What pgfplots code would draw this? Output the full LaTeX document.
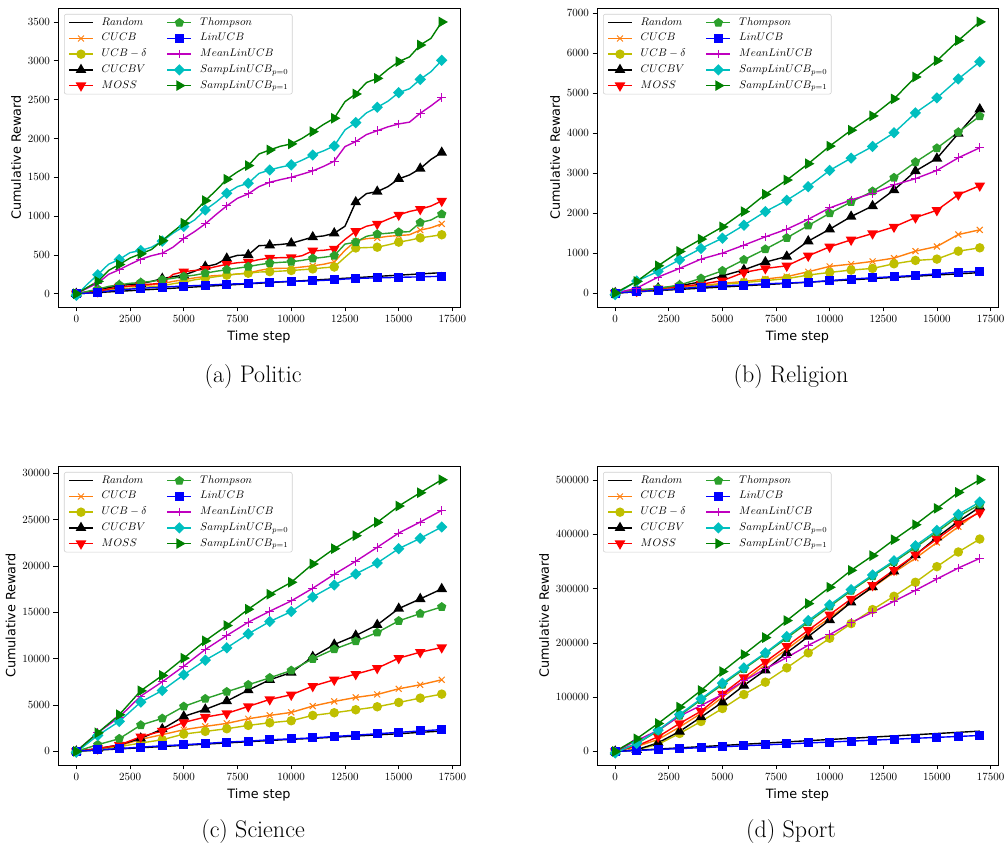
\RequirePackage{fix-cm}
\documentclass[border=0pt]{standalone}
\usepackage{fontspec}
\setsansfont{DejaVu Sans}
\usepackage{pgfplots}
\usepackage{pgfplotstable}
\pgfplotsset{compat=1.18}

\definecolor{cOrange}{HTML}{FF7F0E}
\definecolor{cOlive}{rgb}{0.75,0.75,0}
\definecolor{cGreen}{HTML}{2CA02C}
\definecolor{cMag}{rgb}{0.75,0,0.75}
\definecolor{cCyan}{rgb}{0,0.75,0.75}
\definecolor{cDGreen}{rgb}{0,0.5,0}

\pgfplotstableread{
x rnd cucb ucbd cucbv moss thom lin mean sz so
0 0 0 0 0 0 0 0 0 -20 0
500 8 20 15 25 15 30 8 70 120 80
1000 16 43 30 50 30 60 18 137 245 160
1500 24 65 45 80 60 95 35 250 380 300
2000 32 85 60 105 85 115 50 310 442 377
2500 40 95 70 120 100 135 60 380 530 460
3000 48 103 80 130 115 145 70 445 557 515
3500 56 115 90 160 125 160 78 490 600 570
4000 64 128 100 195 137 180 85 523 678 686
4500 72 160 130 220 250 200 93 600 780 800
5000 80 180 150 240 285 223 100 712 866 909
5500 88 205 180 290 300 240 105 800 950 1050
6000 96 223 200 350 317 265 110 900 1080 1200
6500 104 235 220 380 350 290 118 1020 1180 1330
7000 112 240 240 455 380 310 125 1132 1295 1475
7500 120 255 255 495 400 330 128 1230 1380 1570
8000 128 265 265 500 410 350 132 1286 1424 1651
8500 136 300 280 620 440 375 142 1380 1550 1800
9000 144 325 285 625 460 395 150 1436 1595 1852
9500 152 328 292 635 465 405 155 1470 1630 1900
10000 160 330 300 650 467 412 160 1500 1660 1930
10500 168 345 310 690 490 430 163 1540 1720 2000
11000 176 360 320 730 553 455 167 1582 1788 2088
11500 184 380 335 745 560 470 173 1640 1840 2180
12000 192 410 345 780 578 490 180 1707 1904 2260
12500 200 560 470 870 700 640 190 1895 2110 2474
13000 208 680 590 1180 805 665 197 1960 2204 2573
13500 216 710 595 1290 870 740 202 2050 2330 2720
14000 224 720 600 1316 900 768 205 2100 2401 2774
14500 232 740 630 1380 960 780 208 2150 2480 2890
15000 240 750 665 1480 1016 793 212 2187 2590 2989
15500 248 760 690 1530 1060 800 215 2210 2640 3050
16000 256 820 720 1612 1090 917 218 2324 2761 3203
16500 264 850 740 1730 1130 950 222 2420 2860 3289
17000 272 900 760 1818 1196 1025 225 2525 3006 3500
}\dataA

\pgfplotstableread{
x rnd cucb ucbd cucbv moss thom lin mean sz so
0 0 0 0 0 0 0 0 0 -40 0
1000 30 40 30 50 50 80 30 120 300 290
2000 60 90 70 120 110 116 70 400 540 682
3000 90 140 120 180 160 200 110 615 831 1039
4000 120 190 170 280 220 366 150 848 1114 1347
5000 150 240 220 430 308 557 180 998 1372 1654
6000 180 290 260 580 515 831 200 1197 1696 2037
7000 210 350 310 773 615 1097 230 1405 2037 2469
8000 240 410 360 914 680 1380 250 1596 2319 2826
9000 270 532 449 1297 930 1688 270 1845 2660 3234
10000 300 665 515 1596 1155 1995 310 2128 3067 3674
11000 330 723 574 1912 1330 2278 350 2328 3375 4073
12000 360 790 615 2178 1488 2544 380 2494 3666 4431
13000 390 873 731 2577 1654 2885 410 2702 4007 4855
14000 420 1047 815 3051 1887 3275 440 2860 4506 5404
15000 450 1164 848 3367 2070 3624 480 3067 4880 5811
16000 480 1463 1047 3990 2460 4023 520 3383 5354 6318
17000 510 1580 1130 4597 2685 4423 545 3633 5786 6783
}\dataB

\pgfplotstableread{
x rnd cucb ucbd cucbv moss thom lin mean sz so
0 0 0 0 0 0 0 0 0 -100 0
1000 130 250 200 300 300 718 170 2010 1722 2000
2000 260 600 500 700 680 1364 300 3697 3230 3948
3000 390 1300 900 1400 1580 2835 450 5958 5312 6532
4000 520 1800 1250 2404 2190 3553 600 7501 6568 8183
5000 650 2333 1866 3768 3122 4845 720 9188 8255 10049
6000 780 2692 2153 4522 3697 5670 850 10982 9834 11915
7000 910 3015 2440 5419 4091 6424 1000 12490 11162 13566
8000 1040 3517 2799 6604 4845 7178 1100 13925 12669 15325
9000 1170 3876 3086 7716 5599 7932 1250 15110 13997 16940
10000 1300 4199 3302 8506 6101 8721 1350 16222 15074 18232
11000 1400 4881 3876 10193 7034 9977 1450 17586 16653 20206
12000 1530 5383 4163 11520 7716 11018 1600 19093 17945 21857
13000 1650 5814 4486 12490 8326 11880 1750 20493 19129 23257
14000 1780 6137 4809 13638 8972 12813 1900 22000 20313 24692
15000 1900 6747 5276 15397 10049 14069 2050 23544 21857 26451
16000 2050 7178 5742 16438 10695 14858 2200 24728 22970 27887
17000 2190 7716 6173 17514 11197 15576 2350 25984 24190 29286
}\dataC

\pgfplotstableread{
x rnd cucb ucbd cucbv moss thom lin mean sz so
0 0 0 0 0 0 0 0 0 -3000 0
1000 2200 9000 3000 3000 10000 14000 1700 20000 15000 23300
2000 4400 22000 13000 16000 27000 38000 3500 39000 39300 51500
3000 6600 45000 33100 36800 51500 66000 5200 65000 68100 81600
4000 8800 70000 55200 63200 74200 95000 6900 84700 96900 112300
5000 11000 100000 79100 90800 106100 123000 8600 104900 125800 147200
6000 13200 130000 104900 121500 136200 152000 10400 130000 154000 178500
7000 15400 160000 127600 149700 165000 180000 12100 152100 181600 209800
8000 17600 188000 154000 181600 193900 209000 13800 173000 211700 241100
9000 19800 218000 181600 211700 223300 238000 15600 195700 241100 272400
10000 22000 246000 208600 242300 252100 267000 17300 215300 269900 302500
11000 24200 276000 235600 274800 281000 296000 19000 237400 298200 333700
12000 26400 302000 261400 303100 306100 323000 20700 256400 325200 360700
13000 28600 330000 285900 331900 334400 349000 22500 276700 351500 390200
14000 30800 356000 311700 362000 362600 376000 24200 296900 379100 417800
15000 33000 385000 340500 394500 391400 404000 25900 317800 407400 447900
16000 35200 414000 367500 423900 419600 433000 27600 338000 436800 477300
17000 37400 443000 391400 450300 440500 455000 29400 355800 459500 500600
}\dataD

\pgfplotsset{
  sRnd/.style={black, no marks},
  sCUCB/.style={color=cOrange, mark=x, mark size=4.2pt, mark options={solid,line width=1pt}},
  sUCBd/.style={color=cOlive, mark=*, mark size=4pt, mark options={solid}},
  sCUCBV/.style={black, mark=triangle*, mark size=4.8pt, mark options={solid}},
  sMOSS/.style={red, mark=triangle*, mark size=4.8pt, mark options={solid,rotate=180}},
  sThom/.style={color=cGreen, mark=pentagon*, mark size=4pt, mark options={solid}},
  sLin/.style={color=blue, mark=square*, mark size=3.8pt, mark options={solid}},
  sMean/.style={color=cMag, mark=+, mark size=4.3pt, mark options={solid,line width=1pt}},
  sS0/.style={color=cCyan, mark=square*, mark size=3.3pt, mark options={solid,rotate=45}},
  sS1/.style={color=cDGreen, mark=triangle*, mark size=4.8pt, mark options={solid,rotate=-90}},
  myaxis/.style={
    scale only axis, width=402pt, height=299pt,
    xmin=-850, xmax=17850, xtick={0,2500,...,17500},
    tick align=outside, tick pos=left, major tick length=4.5pt,
    scaled ticks=false,
    /pgf/number format/fixed, /pgf/number format/1000 sep={},
    ticklabel style={font=\fontsize{11}{13}\selectfont},
    xlabel={Time step}, ylabel={Cumulative Reward},
    label style={font=\sffamily\fontsize{12.8}{15}\selectfont},
    xlabel style={yshift=-1.5pt},
    axis line style={line width=0.7pt},
    every tick/.style={black, line width=0.7pt},
    every axis plot/.append style={line width=1.4pt},
    legend columns=5, transpose legend,
    legend cell align=left,
    legend style={at={(0,1)}, anchor=north west, xshift=6pt, yshift=-6pt,
      draw=black!18, rounded corners=2pt, line width=0.6pt,
      font=\fontsize{11}{13}\selectfont, inner xsep=4pt, inner ysep=3pt,
      nodes={inner sep=0pt, text height=8pt, text depth=3pt},
      row sep=4.7pt,
      /tikz/every odd column/.append style={column sep=8pt},
      /tikz/every even column/.append style={column sep=20pt}},
    legend image code/.code={\draw[##1,mark repeat=2,mark phase=2] plot coordinates {(0pt,0pt) (12pt,0pt) (24pt,0pt)};},
  }
}

\newcommand{\allplots}[1]{%
  \addplot[sRnd] table[x=x,y=rnd]{#1}; \addlegendentry{$Random$}
  \addplot[sCUCB] table[x=x,y=cucb]{#1}; \addlegendentry{$CUCB$}
  \addplot[sUCBd] table[x=x,y=ucbd]{#1}; \addlegendentry{$UCB-\delta$}
  \addplot[sCUCBV] table[x=x,y=cucbv]{#1}; \addlegendentry{$CUCBV$}
  \addplot[sMOSS] table[x=x,y=moss]{#1}; \addlegendentry{$MOSS$}
  \addplot[sThom] table[x=x,y=thom]{#1}; \addlegendentry{$Thompson$}
  \addplot[sLin] table[x=x,y=lin]{#1}; \addlegendentry{$LinUCB$}
  \addplot[sMean] table[x=x,y=mean]{#1}; \addlegendentry{$MeanLinUCB$}
  \addplot[sS0] table[x=x,y=sz]{#1}; \addlegendentry{$SampLinUCB_{p=0}$}
  \addplot[sS1] table[x=x,y=so]{#1}; \addlegendentry{$SampLinUCB_{p=1}$}
}

\begin{document}
\begin{tikzpicture}
\useasboundingbox (0,0) rectangle (1005pt,846pt);

\begin{axis}[myaxis, at={(58pt,539pt)}, anchor=south west,
  ymin=-170, ymax=3680, ytick={0,500,...,3500},
  every axis plot/.append style={mark repeat=2}]
\allplots{\dataA}
\end{axis}

\begin{axis}[myaxis, at={(597pt,539pt)}, anchor=south west, width=401pt,
  ymin=-350, ymax=7130, ytick={0,1000,...,7000}]
\allplots{\dataB}
\end{axis}

\begin{axis}[myaxis, at={(58pt,81pt)}, anchor=south west,
  ymin=-1470, ymax=30770, ytick={0,5000,...,30000}]
\allplots{\dataC}
\end{axis}

\begin{axis}[myaxis, at={(597pt,81pt)}, anchor=south west, width=401pt,
  ymin=-25000, ymax=526000, ytick={0,100000,...,500000}]
\allplots{\dataD}
\end{axis}

\node[font=\fontsize{24}{28}\selectfont, anchor=base] at (253pt,463pt) {(a) Politic};
\node[font=\fontsize{24}{28}\selectfont, anchor=base] at (791pt,463pt) {(b) Religion};
\node[font=\fontsize{24}{28}\selectfont, anchor=base] at (253pt,8pt) {(c) Science};
\node[font=\fontsize{24}{28}\selectfont, anchor=base] at (791pt,8pt) {(d) Sport};
\end{tikzpicture}
\end{document}
